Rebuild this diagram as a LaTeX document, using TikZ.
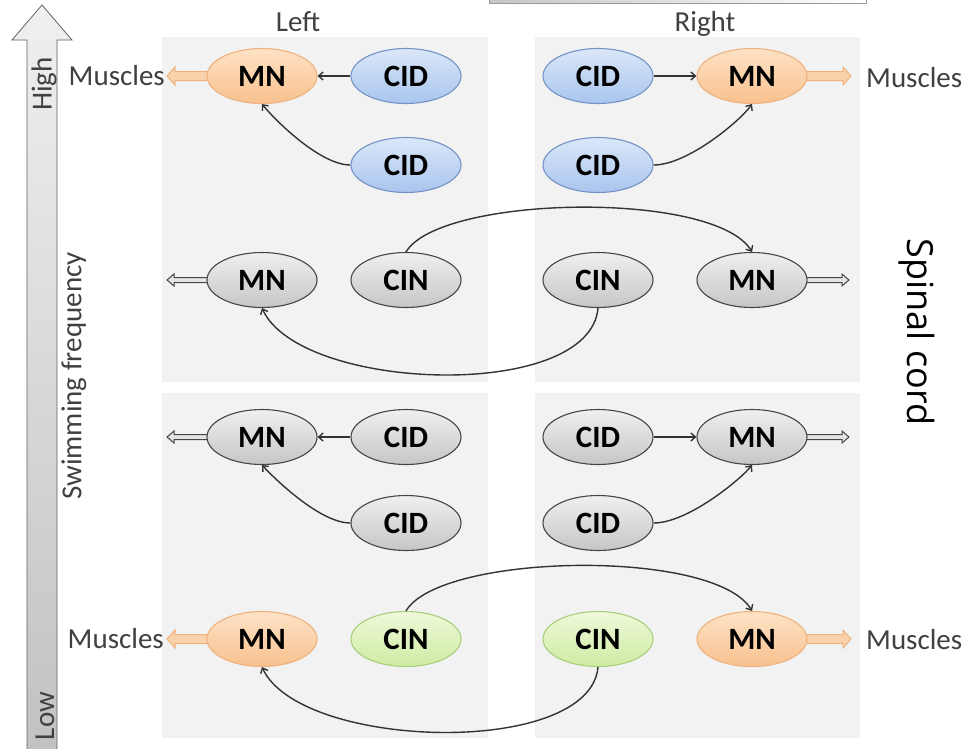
\documentclass[tikz,border=0pt]{standalone}
\usepackage{fontspec}
\setmainfont{Carlito}
\newfontfamily\spinalfont{Open Sans}
\usetikzlibrary{shapes.geometric,arrows.meta}
\pgfdeclarelayer{back}
\pgfdeclarelayer{mid}
\pgfsetlayers{back,mid,main}
\definecolor{panelgray}{HTML}{F2F2F2}
\definecolor{orTop}{HTML}{FDE2C6}
\definecolor{orBot}{HTML}{F8C18E}
\definecolor{orLine}{HTML}{EFB27E}
\definecolor{orFill}{HTML}{F9D2AC}
\definecolor{blTop}{HTML}{DAE7F8}
\definecolor{blBot}{HTML}{A9C5EE}
\definecolor{blLine}{HTML}{7393C6}
\definecolor{gyTop}{HTML}{EFEFEF}
\definecolor{gyBot}{HTML}{C6C6C6}
\definecolor{gyLine}{HTML}{454545}
\definecolor{gyFill}{HTML}{E4E4E4}
\definecolor{grTop}{HTML}{EEF9DA}
\definecolor{grBot}{HTML}{CFEBA2}
\definecolor{grLine}{HTML}{A9CE7C}
\definecolor{txtgray}{HTML}{404040}
\definecolor{conn}{HTML}{333333}
% block arrow from a node (drawn beneath it) to a named coordinate
% #1 style, #2 start node, #3 end coordinate, #4 direction (1 right, -1 left),
% #5 half shaft width, #6 half head width, #7 head length
\newcommand{\blockArrow}[7]{%
  \draw[#1] ([yshift=#5pt]#2.center) -- ([yshift=#5pt, xshift={-(#4)*#7pt}]#3)
    -- ([yshift=#6pt, xshift={-(#4)*#7pt}]#3) -- (#3)
    -- ([yshift=-#6pt, xshift={-(#4)*#7pt}]#3) -- ([yshift=-#5pt, xshift={-(#4)*#7pt}]#3)
    -- ([yshift=-#5pt]#2.center) -- cycle;}
\begin{document}
\begin{tikzpicture}[x=1pt,y=-1pt,
  cell/.style={ellipse, minimum width=110pt, minimum height=55pt, inner sep=0pt,
    line width=1.1pt, font=\fontsize{31}{31}\selectfont\bfseries, text=black},
  mnor/.style={cell, draw=orLine, top color=orTop, bottom color=orBot},
  cidb/.style={cell, draw=blLine, top color=blTop, bottom color=blBot},
  gcell/.style={cell, draw=gyLine, top color=gyTop, bottom color=gyBot},
  cing/.style={cell, draw=grLine, top color=grTop, bottom color=grBot},
  link/.style={draw=conn, line width=1.4pt, -{Straight Barb[length=4.5pt,width=8pt]}},
  orblock/.style={draw=orLine, fill=orFill, line width=1pt, line join=miter},
  gyblock/.style={draw=gyLine, fill=gyFill, line width=1pt, line join=miter},
  lbl/.style={font=\fontsize{29}{29}\selectfont, text=txtgray, inner sep=0pt},
  panel/.style={fill=panelgray, draw=none}
]
\useasboundingbox (0,0) rectangle (967,748);
\begin{pgfonlayer}{back}
% top partial box
\draw[draw=gray!80, line width=0.8pt, left color=gray!45, right color=white] (489,-10) rectangle (866,3);
% panels
\path[panel] (162,37) rectangle (488,382);
\path[panel] (535,37) rectangle (860,382);
\path[panel] (162,393) rectangle (488,738);
\path[panel] (535,393) rectangle (860,738);
\end{pgfonlayer}
% frequency arrow
\draw[draw=gray!75!black, line width=0.8pt, top color=gray!12, bottom color=gray!48]
  (42,5) -- (72,40) -- (57,40) -- (57,752) -- (27,752) -- (27,40) -- (12,40) -- cycle;
\node[lbl, rotate=90] (high) at (44,84) {High};
\node[lbl, rotate=90] (low) at (45,716) {Low};
\node[lbl, rotate=90] (freq) at (74,376) {Swimming frequency};
% column labels
\node[lbl, anchor=base] (leftlbl) at (298,31) {Left};
\node[lbl, anchor=base] (rightlbl) at (705,31) {Right};
\node[font=\spinalfont\fontsize{36}{36}\selectfont, rotate=-90, inner sep=0pt] (spinal) at (917,332) {Spinal cord};
% row 1 and 2
\node[mnor] (LMN1) at (262,76) {MN};
\node[cidb] (LCID1) at (406,76) {CID};
\node[cidb] (LCID2) at (406,165) {CID};
\node[cidb] (RCID1) at (598,76) {CID};
\node[mnor] (RMN1) at (752,76) {MN};
\node[cidb] (RCID2) at (598,165) {CID};
% row 3
\node[gcell] (LMN3) at (262,280) {MN};
\node[gcell] (LCIN3) at (406,280) {CIN};
\node[gcell] (RCIN3) at (598,280) {CIN};
\node[gcell] (RMN3) at (752,280) {MN};
% row 4 and 5
\node[gcell] (LMN4) at (262,437) {MN};
\node[gcell] (LCID4) at (406,437) {CID};
\node[gcell] (RCID4) at (598,437) {CID};
\node[gcell] (RMN4) at (752,437) {MN};
\node[gcell] (LCID5) at (406,523) {CID};
\node[gcell] (RCID5) at (598,523) {CID};
% row 6
\node[mnor] (LMN6) at (262,639) {MN};
\node[cing] (LCIN6) at (406,639) {CIN};
\node[cing] (RCIN6) at (598,639) {CIN};
\node[mnor] (RMN6) at (752,639) {MN};
% muscles labels
\node[lbl, anchor=base east] (LMus1) at (165,85) {Muscles};
\node[lbl, anchor=base west] (RMus1) at (866,87) {Muscles};
\node[lbl, anchor=base east] (LMus6) at (164,648) {Muscles};
\node[lbl, anchor=base west] (RMus6) at (866,649) {Muscles};
% outputs (beneath the cells)
\coordinate (oL1) at (167,76);
\coordinate (oR1) at (851,76);
\coordinate (oL3) at (167,280);
\coordinate (oR3) at (849,280);
\coordinate (oL4) at (167,437);
\coordinate (oR4) at (849,437);
\coordinate (oL6) at (167,639);
\coordinate (oR6) at (851,639);
\begin{pgfonlayer}{mid}
\blockArrow{orblock}{LMN1}{oL1}{-1}{4.5}{9}{8}
\blockArrow{orblock}{RMN1}{oR1}{1}{4.5}{9}{8}
\blockArrow{gyblock}{LMN3}{oL3}{-1}{2.5}{6}{7}
\blockArrow{gyblock}{RMN3}{oR3}{1}{2.5}{6}{7}
\blockArrow{gyblock}{LMN4}{oL4}{-1}{2.5}{6}{7}
\blockArrow{gyblock}{RMN4}{oR4}{1}{2.5}{6}{7}
\blockArrow{orblock}{LMN6}{oL6}{-1}{4.5}{9}{8}
\blockArrow{orblock}{RMN6}{oR6}{1}{4.5}{9}{8}
\end{pgfonlayer}
% connections rows 1-2
\draw[link] (LCID1.west) -- (LMN1.east);
\draw[link] (RCID1.east) -- (RMN1.west);
\draw[link] (LCID2.west) .. controls (320,165) and (275,120) .. (LMN1.south);
\draw[link] (RCID2.east) .. controls (688,165) and (741,120) .. (RMN1.south);
% row 3
\draw[link] (LCIN3.north) .. controls (440,195) and (715,190) .. (RMN3.north);
\draw[link] (RCIN3.south) .. controls (590,402) and (300,392) .. (LMN3.south);
% rows 4-5
\draw[link] (LCID4.west) -- (LMN4.east);
\draw[link] (RCID4.east) -- (RMN4.west);
\draw[link] (LCID5.west) .. controls (320,523) and (275,479) .. (LMN4.south);
\draw[link] (RCID5.east) .. controls (688,523) and (741,479) .. (RMN4.south);
% row 6
\draw[link] (LCIN6.north) .. controls (440,553) and (715,548) .. (RMN6.north);
\draw[link] (RCIN6.south) .. controls (590,758) and (300,750) .. (LMN6.south);
\end{tikzpicture}
\end{document}
